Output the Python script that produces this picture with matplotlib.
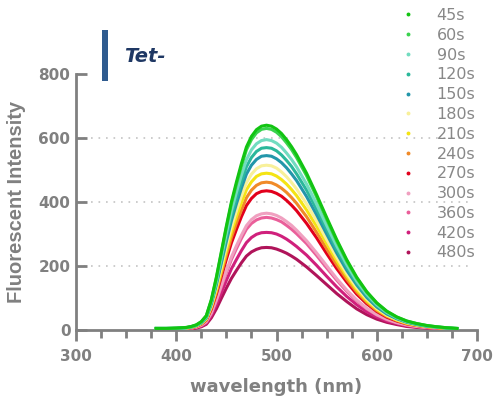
import matplotlib
matplotlib.use("Agg")
import matplotlib.pyplot as plt
from matplotlib.lines import Line2D
from matplotlib.patches import Rectangle
from matplotlib.ticker import MultipleLocator

wavelength = [380, 390, 400, 410, 415, 420, 425, 430, 435, 440, 445, 450, 455, 460, 465,
              470, 475, 480, 485, 490, 495, 500, 505, 510, 515, 520,
              530, 540, 550, 560, 570, 580, 590, 600, 610, 620, 630, 640, 650, 660, 670, 680]

labels = ["45s", "60s", "90s", "120s", "150s", "180s", "210s", "240s", "270s",
          "300s", "360s", "420s", "480s"]

s45 = [5, 5, 6, 8, 11, 16, 26, 45, 95, 165, 245, 325, 400, 462, 520, 572, 605, 626, 637, 640, 637, 628, 614, 595, 573, 548,
       490, 423, 352, 283, 220, 165, 120, 85, 59, 41, 28, 20, 14, 10, 7, 5]
s60 = [5, 5, 6, 8, 11, 16, 26, 44, 93, 162, 241, 320, 394, 455, 512, 563, 595, 616, 627, 630, 627, 618, 604, 585, 564, 539,
       482, 416, 346, 278, 216, 162, 118, 84, 58, 40, 28, 20, 14, 10, 7, 5]
s90 = [5, 5, 6, 7, 10, 15, 24, 42, 88, 153, 228, 302, 372, 430, 484, 532, 563, 582, 592, 595, 592, 584, 571, 553, 533, 510,
       456, 393, 327, 263, 205, 153, 112, 79, 55, 38, 26, 19, 13, 9, 7, 5]
s120 = [5, 5, 5, 7, 10, 14, 23, 40, 85, 147, 218, 290, 356, 412, 463, 510, 539, 558, 568, 570, 568, 560, 547, 530, 511, 488,
        437, 377, 314, 252, 196, 147, 107, 76, 53, 37, 25, 18, 12, 9, 6, 4]
s150 = [4, 4, 5, 7, 9, 14, 22, 38, 81, 141, 209, 277, 341, 394, 443, 487, 515, 533, 543, 545, 543, 535, 523, 507, 488, 467,
        417, 360, 300, 241, 187, 141, 102, 72, 50, 35, 24, 17, 12, 9, 6, 4]
s180 = [4, 4, 5, 6, 9, 13, 21, 36, 76, 133, 197, 262, 322, 372, 419, 460, 487, 504, 513, 515, 513, 506, 494, 479, 461, 441,
        394, 341, 283, 228, 177, 133, 97, 68, 47, 33, 23, 16, 11, 8, 6, 4]
s210 = [4, 4, 5, 6, 8, 12, 20, 34, 73, 126, 188, 249, 306, 354, 398, 438, 463, 480, 488, 490, 488, 481, 470, 456, 439, 420,
        375, 324, 270, 217, 169, 126, 92, 65, 45, 31, 21, 15, 11, 8, 5, 4]
s240 = [4, 4, 4, 6, 8, 12, 19, 32, 69, 119, 177, 235, 289, 334, 375, 413, 437, 452, 460, 462, 460, 453, 443, 430, 414, 396,
        354, 305, 254, 204, 159, 119, 87, 61, 43, 30, 20, 14, 10, 7, 5, 4]
s270 = [3, 3, 4, 5, 7, 11, 18, 31, 65, 112, 167, 221, 272, 314, 354, 389, 411, 426, 433, 435, 433, 427, 418, 405, 390, 373,
        333, 288, 239, 192, 150, 112, 82, 58, 40, 28, 19, 14, 10, 7, 5, 3]
s300 = [3, 3, 3, 5, 6, 9, 15, 26, 54, 94, 140, 185, 228, 263, 296, 326, 345, 357, 363, 365, 363, 358, 350, 339, 327, 312,
        279, 241, 201, 161, 125, 94, 68, 48, 34, 23, 16, 11, 8, 6, 4, 3]
s360 = [3, 3, 3, 4, 6, 9, 14, 25, 52, 91, 135, 179, 220, 254, 286, 315, 333, 344, 350, 352, 350, 345, 338, 327, 315, 301,
        270, 233, 194, 156, 121, 91, 66, 47, 32, 23, 15, 11, 8, 6, 4, 3]
s420 = [2, 2, 3, 4, 5, 8, 12, 21, 45, 79, 117, 155, 191, 220, 248, 273, 289, 299, 304, 305, 304, 300, 293, 284, 273, 261,
        234, 202, 168, 135, 105, 79, 57, 41, 28, 20, 13, 10, 7, 5, 3, 2]
s480 = [2, 2, 2, 3, 4, 6, 10, 18, 38, 66, 99, 131, 161, 186, 210, 231, 244, 252, 257, 258, 257, 253, 247, 240, 231, 221,
        197, 170, 142, 114, 89, 66, 48, 34, 24, 17, 11, 8, 6, 4, 3, 2]

series = [s45, s60, s90, s120, s150, s180, s210, s240, s270, s300, s360, s420, s480]
colors = ["#12c412", "#3ad34e", "#72dcc0", "#2bb89b", "#2396aa", "#f8f09a", "#f4e414",
          "#f08a28", "#e2001c", "#f0a0c0", "#ea5f9a", "#d0207c", "#b0145a"]

x_ticks = [300, 400, 500, 600, 700]
y_ticks = [0, 200, 400, 600, 800]

GRAY = "#808080"
plt.rcParams['font.family'] = ['DejaVu Sans']

fig = plt.figure(figsize=(4.97, 4.05), dpi=100)
W, H = 497, 405
ax = fig.add_axes([76 / W, 1 - 330 / H, (477 - 76) / W, (330 - 74) / H])

for yv in y_ticks[1:-1]:
    ax.plot([300, 695], [yv, yv], color="#c4c4c4", lw=1.2, linestyle=(0, (1, 3.5)),
            zorder=1, clip_on=False)

n = len(series)
for i in range(n - 1, -1, -1):
    ax.plot(wavelength, series[i], color=colors[i], lw=2.2, zorder=2 + (n - i),
            solid_joinstyle='round')

ax.set_xlim(300, 700)
ax.set_ylim(0, 800)
ax.set_xticks(x_ticks)
ax.set_yticks(y_ticks)
ax.xaxis.set_minor_locator(MultipleLocator(25))

for sp in ["top", "right"]:
    ax.spines[sp].set_visible(False)
for sp in ["left", "bottom"]:
    ax.spines[sp].set_color(GRAY)
    ax.spines[sp].set_linewidth(2.0)

ax.tick_params(axis='x', which='major', direction='out', length=8, width=2.0, color=GRAY,
               labelcolor=GRAY, labelsize=11, pad=6)
ax.tick_params(axis='x', which='minor', direction='out', length=6, width=2.0, color=GRAY)
ax.tick_params(axis='y', which='major', direction='in', length=8, width=2.0, color=GRAY,
               labelcolor=GRAY, labelsize=11, pad=4)
for lab in ax.get_xticklabels() + ax.get_yticklabels():
    lab.set_fontweight('bold')

ax.set_xlabel("wavelength (nm)", fontsize=13, fontweight='bold', color=GRAY, labelpad=10)
ax.set_ylabel("Fluorescent Intensity", fontsize=14.5, fontweight='bold', color=GRAY, labelpad=9,
              family=['Liberation Sans', 'DejaVu Sans'])

handles = [Line2D([], [], marker='o', markersize=1.8, linestyle='none', color=c) for c in colors]
leg = fig.legend(handles, labels, loc='upper left', bbox_to_anchor=(400 / W, 1 - 8 / H),
                 frameon=False, fontsize=11.5, labelspacing=0.3, handlelength=1.0,
                 handletextpad=1.3, borderpad=0, borderaxespad=0)
for t in leg.get_texts():
    t.set_color("#888888")

fig.patches.append(Rectangle((102 / W, 1 - 81 / H), 6 / W, 51 / H, transform=fig.transFigure,
                             facecolor="#2f5b8f", edgecolor='none'))
fig.text(124 / W, 1 - 56 / H, "Tet-", fontsize=14, fontweight='bold', style='italic',
         color="#1f3864", va='center', ha='left', family=['DejaVu Sans'])

fig.savefig("out.png", dpi=100)
